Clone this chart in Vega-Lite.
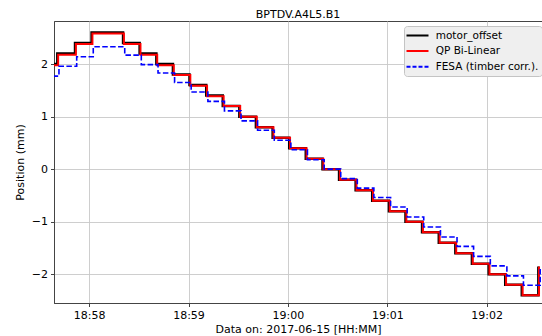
{
  "$schema": "https://vega.github.io/schema/vega-lite/v6.json",
  "autosize": "none",
  "padding": {"left": 54, "top": 21, "right": 0, "bottom": 33},
  "width": 488,
  "height": 282,
  "background": "white",
  "title": {"text": "BPTDV.A4L5.B1", "font": "DejaVu Sans", "fontSize": 11, "fontWeight": "normal", "color": "#000", "offset": 1.5},
  "config": {
    "view": {"stroke": "#444", "strokeWidth": 1},
    "axis": {
      "labelFont": "DejaVu Sans", "labelFontSize": 11, "labelColor": "#000",
      "titleFont": "DejaVu Sans", "titleFontSize": 11, "titleFontWeight": "normal", "titleColor": "#000",
      "domainColor": "#444", "domainWidth": 1,
      "tickColor": "#444", "tickSize": 3.5, "tickWidth": 1, "labelPadding": 3,
      "gridColor": "#c8c8c8", "gridWidth": 0.9
    }
  },
  "data": {"values": [
    {"series": "motor_offset", "time": "2017-06-15T18:57:38.000", "pos": 2.0},
    {"series": "motor_offset", "time": "2017-06-15T18:57:40.800", "pos": 2.2},
    {"series": "motor_offset", "time": "2017-06-15T18:57:51.500", "pos": 2.4},
    {"series": "motor_offset", "time": "2017-06-15T18:58:01.500", "pos": 2.6},
    {"series": "motor_offset", "time": "2017-06-15T18:58:20.500", "pos": 2.4},
    {"series": "motor_offset", "time": "2017-06-15T18:58:30.500", "pos": 2.2},
    {"series": "motor_offset", "time": "2017-06-15T18:58:40.600", "pos": 2.0},
    {"series": "motor_offset", "time": "2017-06-15T18:58:50.600", "pos": 1.8},
    {"series": "motor_offset", "time": "2017-06-15T18:59:00.600", "pos": 1.6},
    {"series": "motor_offset", "time": "2017-06-15T18:59:10.700", "pos": 1.4},
    {"series": "motor_offset", "time": "2017-06-15T18:59:20.700", "pos": 1.2},
    {"series": "motor_offset", "time": "2017-06-15T18:59:30.700", "pos": 1.0},
    {"series": "motor_offset", "time": "2017-06-15T18:59:40.700", "pos": 0.8},
    {"series": "motor_offset", "time": "2017-06-15T18:59:50.800", "pos": 0.6},
    {"series": "motor_offset", "time": "2017-06-15T19:00:00.800", "pos": 0.4},
    {"series": "motor_offset", "time": "2017-06-15T19:00:10.800", "pos": 0.2},
    {"series": "motor_offset", "time": "2017-06-15T19:00:20.900", "pos": 0.0},
    {"series": "motor_offset", "time": "2017-06-15T19:00:30.900", "pos": -0.2},
    {"series": "motor_offset", "time": "2017-06-15T19:00:40.900", "pos": -0.4},
    {"series": "motor_offset", "time": "2017-06-15T19:00:50.900", "pos": -0.6},
    {"series": "motor_offset", "time": "2017-06-15T19:01:01.000", "pos": -0.8},
    {"series": "motor_offset", "time": "2017-06-15T19:01:11.000", "pos": -1.0},
    {"series": "motor_offset", "time": "2017-06-15T19:01:21.000", "pos": -1.2},
    {"series": "motor_offset", "time": "2017-06-15T19:01:31.100", "pos": -1.4},
    {"series": "motor_offset", "time": "2017-06-15T19:01:41.100", "pos": -1.6},
    {"series": "motor_offset", "time": "2017-06-15T19:01:51.100", "pos": -1.8},
    {"series": "motor_offset", "time": "2017-06-15T19:02:01.200", "pos": -2.0},
    {"series": "motor_offset", "time": "2017-06-15T19:02:11.200", "pos": -2.2},
    {"series": "motor_offset", "time": "2017-06-15T19:02:21.200", "pos": -2.4},
    {"series": "motor_offset", "time": "2017-06-15T19:02:31.200", "pos": -1.85},
    {"series": "QP Bi-Linear", "time": "2017-06-15T18:57:38.000", "pos": 1.98},
    {"series": "QP Bi-Linear", "time": "2017-06-15T18:57:41.300", "pos": 2.18},
    {"series": "QP Bi-Linear", "time": "2017-06-15T18:57:52.000", "pos": 2.38},
    {"series": "QP Bi-Linear", "time": "2017-06-15T18:58:02.000", "pos": 2.58},
    {"series": "QP Bi-Linear", "time": "2017-06-15T18:58:21.000", "pos": 2.38},
    {"series": "QP Bi-Linear", "time": "2017-06-15T18:58:31.000", "pos": 2.18},
    {"series": "QP Bi-Linear", "time": "2017-06-15T18:58:41.100", "pos": 1.98},
    {"series": "QP Bi-Linear", "time": "2017-06-15T18:58:51.100", "pos": 1.79},
    {"series": "QP Bi-Linear", "time": "2017-06-15T18:59:01.100", "pos": 1.59},
    {"series": "QP Bi-Linear", "time": "2017-06-15T18:59:11.200", "pos": 1.39},
    {"series": "QP Bi-Linear", "time": "2017-06-15T18:59:21.200", "pos": 1.2},
    {"series": "QP Bi-Linear", "time": "2017-06-15T18:59:31.200", "pos": 1.0},
    {"series": "QP Bi-Linear", "time": "2017-06-15T18:59:41.200", "pos": 0.8},
    {"series": "QP Bi-Linear", "time": "2017-06-15T18:59:51.300", "pos": 0.6},
    {"series": "QP Bi-Linear", "time": "2017-06-15T19:00:01.300", "pos": 0.4},
    {"series": "QP Bi-Linear", "time": "2017-06-15T19:00:11.300", "pos": 0.2},
    {"series": "QP Bi-Linear", "time": "2017-06-15T19:00:21.400", "pos": 0.0},
    {"series": "QP Bi-Linear", "time": "2017-06-15T19:00:31.400", "pos": -0.2},
    {"series": "QP Bi-Linear", "time": "2017-06-15T19:00:41.400", "pos": -0.4},
    {"series": "QP Bi-Linear", "time": "2017-06-15T19:00:51.400", "pos": -0.6},
    {"series": "QP Bi-Linear", "time": "2017-06-15T19:01:01.500", "pos": -0.8},
    {"series": "QP Bi-Linear", "time": "2017-06-15T19:01:11.500", "pos": -1.0},
    {"series": "QP Bi-Linear", "time": "2017-06-15T19:01:21.500", "pos": -1.2},
    {"series": "QP Bi-Linear", "time": "2017-06-15T19:01:31.600", "pos": -1.4},
    {"series": "QP Bi-Linear", "time": "2017-06-15T19:01:41.600", "pos": -1.6},
    {"series": "QP Bi-Linear", "time": "2017-06-15T19:01:51.600", "pos": -1.8},
    {"series": "QP Bi-Linear", "time": "2017-06-15T19:02:01.700", "pos": -2.0},
    {"series": "QP Bi-Linear", "time": "2017-06-15T19:02:11.700", "pos": -2.2},
    {"series": "QP Bi-Linear", "time": "2017-06-15T19:02:21.700", "pos": -2.4},
    {"series": "QP Bi-Linear", "time": "2017-06-15T19:02:31.600", "pos": -1.85},
    {"series": "FESA (timber corr.).", "time": "2017-06-15T18:57:38.000", "pos": 1.77},
    {"series": "FESA (timber corr.).", "time": "2017-06-15T18:57:41.800", "pos": 1.96},
    {"series": "FESA (timber corr.).", "time": "2017-06-15T18:57:52.500", "pos": 2.14},
    {"series": "FESA (timber corr.).", "time": "2017-06-15T18:58:02.500", "pos": 2.33},
    {"series": "FESA (timber corr.).", "time": "2017-06-15T18:58:21.500", "pos": 2.17},
    {"series": "FESA (timber corr.).", "time": "2017-06-15T18:58:31.500", "pos": 1.99},
    {"series": "FESA (timber corr.).", "time": "2017-06-15T18:58:41.600", "pos": 1.83},
    {"series": "FESA (timber corr.).", "time": "2017-06-15T18:58:51.600", "pos": 1.65},
    {"series": "FESA (timber corr.).", "time": "2017-06-15T18:59:01.600", "pos": 1.47},
    {"series": "FESA (timber corr.).", "time": "2017-06-15T18:59:11.700", "pos": 1.29},
    {"series": "FESA (timber corr.).", "time": "2017-06-15T18:59:21.700", "pos": 1.11},
    {"series": "FESA (timber corr.).", "time": "2017-06-15T18:59:31.700", "pos": 0.92},
    {"series": "FESA (timber corr.).", "time": "2017-06-15T18:59:41.700", "pos": 0.74},
    {"series": "FESA (timber corr.).", "time": "2017-06-15T18:59:51.800", "pos": 0.55},
    {"series": "FESA (timber corr.).", "time": "2017-06-15T19:00:01.800", "pos": 0.37},
    {"series": "FESA (timber corr.).", "time": "2017-06-15T19:00:11.800", "pos": 0.18},
    {"series": "FESA (timber corr.).", "time": "2017-06-15T19:00:21.900", "pos": 0.0},
    {"series": "FESA (timber corr.).", "time": "2017-06-15T19:00:31.900", "pos": -0.18},
    {"series": "FESA (timber corr.).", "time": "2017-06-15T19:00:41.900", "pos": -0.36},
    {"series": "FESA (timber corr.).", "time": "2017-06-15T19:00:51.900", "pos": -0.54},
    {"series": "FESA (timber corr.).", "time": "2017-06-15T19:01:02.000", "pos": -0.72},
    {"series": "FESA (timber corr.).", "time": "2017-06-15T19:01:12.000", "pos": -0.91},
    {"series": "FESA (timber corr.).", "time": "2017-06-15T19:01:22.000", "pos": -1.10},
    {"series": "FESA (timber corr.).", "time": "2017-06-15T19:01:32.100", "pos": -1.29},
    {"series": "FESA (timber corr.).", "time": "2017-06-15T19:01:42.100", "pos": -1.47},
    {"series": "FESA (timber corr.).", "time": "2017-06-15T19:01:52.100", "pos": -1.66},
    {"series": "FESA (timber corr.).", "time": "2017-06-15T19:02:02.200", "pos": -1.84},
    {"series": "FESA (timber corr.).", "time": "2017-06-15T19:02:12.200", "pos": -2.03},
    {"series": "FESA (timber corr.).", "time": "2017-06-15T19:02:22.200", "pos": -2.21},
    {"series": "FESA (timber corr.).", "time": "2017-06-15T19:02:32.300", "pos": -1.85}
  ]},
  "encoding": {
    "x": {
      "field": "time", "type": "temporal",
      "scale": {"domain": [
        {"year": 2017, "month": 6, "date": 15, "hours": 18, "minutes": 57, "seconds": 38, "milliseconds": 800},
        {"year": 2017, "month": 6, "date": 15, "hours": 19, "minutes": 2, "seconds": 33, "milliseconds": 400}
      ]},
      "axis": {
        "format": "%H:%M",
        "values": [
          {"year": 2017, "month": 6, "date": 15, "hours": 18, "minutes": 58},
          {"year": 2017, "month": 6, "date": 15, "hours": 18, "minutes": 59},
          {"year": 2017, "month": 6, "date": 15, "hours": 19, "minutes": 0},
          {"year": 2017, "month": 6, "date": 15, "hours": 19, "minutes": 1},
          {"year": 2017, "month": 6, "date": 15, "hours": 19, "minutes": 2}
        ],
        "title": "Data on: 2017-06-15 [HH:MM]", "grid": true, "titlePadding": 3
      }
    },
    "y": {
      "field": "pos", "type": "quantitative",
      "scale": {"domain": [-2.547, 2.82], "nice": false, "zero": false},
      "axis": {"values": [-2, -1, 0, 1, 2], "title": "Position (mm)", "grid": true, "titlePadding": 6}
    },
    "color": {
      "field": "series", "type": "nominal",
      "scale": {"domain": ["motor_offset", "QP Bi-Linear", "FESA (timber corr.)."], "range": ["#000000", "#ff0000", "#0000ff"]},
      "legend": {
        "orient": "none", "legendX": 350, "legendY": 5, "title": null,
        "fillColor": "#efefef", "strokeColor": "#c4c4c4", "cornerRadius": 3, "padding": 3.5,
        "symbolType": "M-1.4,0H3", "symbolSize": 100, "symbolStrokeWidth": 2,
        "labelFont": "DejaVu Sans", "labelFontSize": 10.5, "labelColor": "#000", "labelOffset": 16.2, "rowPadding": 3.6,
        "encode": {"symbols": {"update": {"strokeDash": {"signal": "datum.value === 'FESA (timber corr.).' ? [4, 2] : [1, 0]"}}}}
      }
    }
  },
  "layer": [
    {"transform": [{"filter": "datum.series === 'motor_offset'"}], "mark": {"type": "line", "interpolate": "step-after", "strokeWidth": 2.5, "clip": true}},
    {"transform": [{"filter": "datum.series === 'QP Bi-Linear'"}], "mark": {"type": "line", "interpolate": "step-after", "strokeWidth": 2, "clip": true}},
    {"transform": [{"filter": "datum.series === 'FESA (timber corr.).'"}], "mark": {"type": "line", "interpolate": "step-after", "strokeWidth": 1.6, "strokeDash": [5.5, 2.4], "clip": true}}
  ]
}
